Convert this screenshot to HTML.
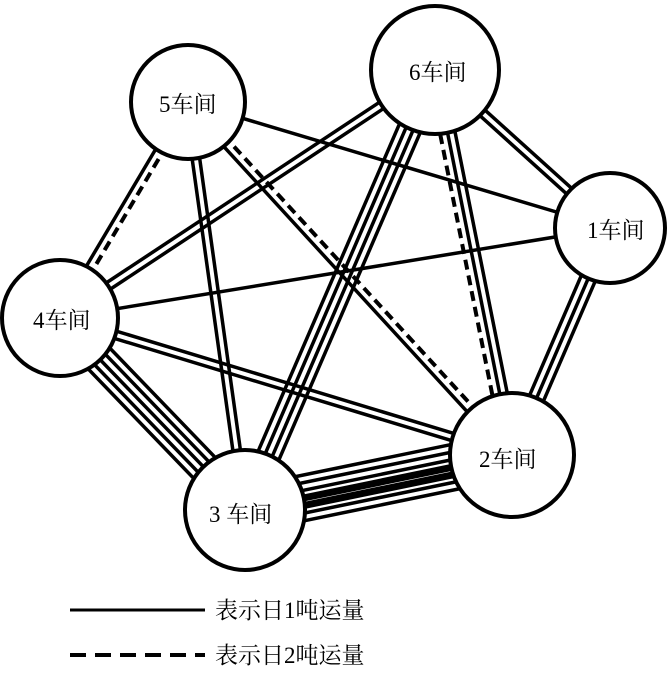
<!DOCTYPE html>
<html><head><meta charset="utf-8"><style>
html,body{margin:0;padding:0;background:#fff;}
svg{display:block}
text{font-family:"Liberation Serif","Noto Serif CJK SC",serif;font-size:23px;fill:#000}
</style></head><body>
<svg id="s" width="671" height="674" viewBox="0 0 671 674" xmlns="http://www.w3.org/2000/svg">
<g id="lines" stroke="#000" stroke-width="3.5" fill="none"></g>
<g id="nodes" fill="#fff" stroke="#000" stroke-width="4">
<circle cx="188" cy="102" r="57"/>
<circle cx="435" cy="70" r="64"/>
<circle cx="610" cy="228" r="55"/>
<circle cx="60" cy="318" r="58"/>
<circle cx="512" cy="455" r="62"/>
<circle cx="245" cy="510" r="60"/>
</g>
<text x="159" y="112">5车间</text>
<text x="409" y="80">6车间</text>
<text x="587" y="238">1车间</text>
<text x="33" y="328">4车间</text>
<text x="479" y="467">2车间</text>
<text x="209" y="522">3 车间</text>
<line x1="70" y1="610" x2="205" y2="610" stroke="#000" stroke-width="3"/>
<line x1="70" y1="655" x2="205" y2="655" stroke="#000" stroke-width="4" stroke-dasharray="16,9"/>
<text x="215" y="618">表示日1吨运量</text>
<text x="215" y="663">表示日2吨运量</text>
</svg>
<script>
var N={5:[188,102],6:[435,70],1:[610,228],4:[60,318],2:[512,455],3:[245,510]};
var E=[[5,1,'s'],[5,4,'ds'],[5,3,'ss'],[5,2,'ds'],[6,4,'ss'],[6,3,'ssss'],[6,2,'ssd'],[6,1,'ss'],
[1,4,'s'],[1,2,'sss'],[4,2,'ss'],[4,3,'sssss'],[3,2,'sssTTss']];
var g=document.getElementById('lines'),ns='http://www.w3.org/2000/svg';
E.forEach(function(e){var a=N[e[0]],b=N[e[1]],t=e[2];var dx=b[0]-a[0],dy=b[1]-a[1],L=Math.hypot(dx,dy);
var px=-dy/L,py=dx/L,n=t.length,sp=7.5;
for(var i=0;i<n;i++){var o=(i-(n-1)/2)*sp;var l=document.createElementNS(ns,'line');
l.setAttribute('x1',a[0]+px*o);l.setAttribute('y1',a[1]+py*o);l.setAttribute('x2',b[0]+px*o);l.setAttribute('y2',b[1]+py*o);
if(t[i]=='d'){l.setAttribute('stroke-dasharray','10,6');l.setAttribute('stroke-width','4');}
if(t[i]=='T'){l.setAttribute('stroke-width','7');}
g.appendChild(l);}});
</script>
</body></html>
